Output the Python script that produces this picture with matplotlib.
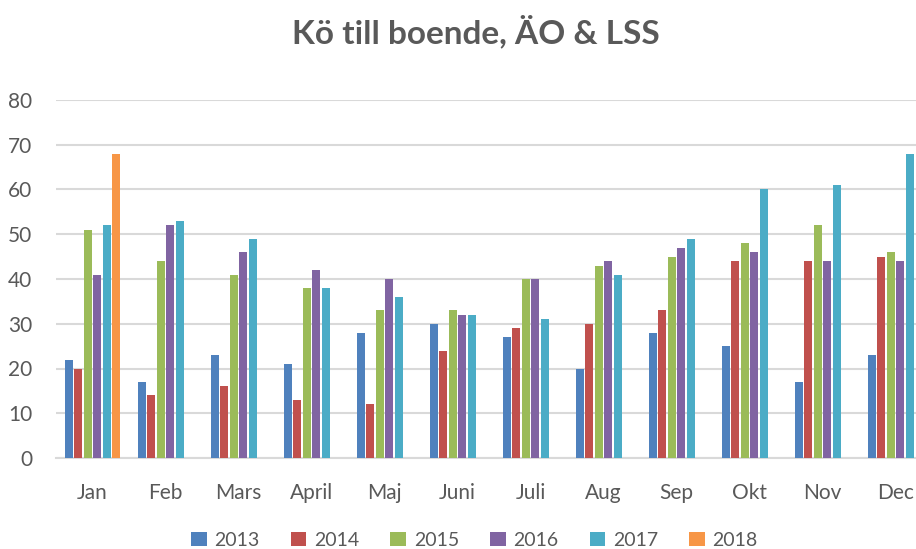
import numpy as np
import matplotlib
matplotlib.use("Agg")
import matplotlib.pyplot as plt

months = ["Jan", "Feb", "Mars", "April", "Maj", "Juni", "Juli", "Aug", "Sep", "Okt", "Nov", "Dec"]
years = ["2013", "2014", "2015", "2016", "2017", "2018"]
v2013 = [22, 17, 23, 21, 28, 30, 27, 20, 28, 25, 17, 23]
v2014 = [20, 14, 16, 13, 12, 24, 29, 30, 33, 44, 44, 45]
v2015 = [51, 44, 41, 38, 33, 33, 40, 43, 45, 48, 52, 46]
v2016 = [41, 52, 46, 42, 40, 32, 40, 44, 47, 46, 44, 44]
v2017 = [52, 53, 49, 38, 36, 32, 31, 41, 49, 60, 61, 68]
v2018 = [68, 0, 0, 0, 0, 0, 0, 0, 0, 0, 0, 0]
series = [v2013, v2014, v2015, v2016, v2017, v2018]
colors = ["#4F81BD", "#C0504D", "#9BBB59", "#8064A2", "#4BACC6", "#F79646"]

plt.rcParams['font.family'] = ['Lato', 'DejaVu Sans']
txt = "#595959"

fig = plt.figure(figsize=(9.16, 5.49), dpi=100)
ax = fig.add_axes([56 / 916, 1 - 458 / 549, 876 / 916, 358 / 549])

x = np.arange(len(months))
slot = 0.13
bw = 0.11
for i, (vals, c, y) in enumerate(zip(series, colors, years)):
    ax.bar(x + (i - 2.5) * slot, vals, width=bw, color=c, label=y, zorder=3)

ax.set_xlim(-0.5, 11.5)
ax.set_ylim(0, 80)
ax.set_yticks(range(0, 81, 10))
ax.set_xticks(x)
ax.set_xticklabels(months)
ax.yaxis.grid(True, color="#d9d9d9", linewidth=1.5, zorder=0)
for s in ["top", "right", "left"]:
    ax.spines[s].set_visible(False)
ax.spines["bottom"].set_color("#d9d9d9")
ax.spines["bottom"].set_linewidth(1.5)
ax.tick_params(axis="both", length=0, labelsize=15, colors=txt)
ax.tick_params(axis="x", pad=18)
ax.tick_params(axis="y", pad=17)

fig.text(0.52, 0.943, "Kö till boende, ÄO & LSS", ha="center", va="center",
         fontsize=24, fontweight="bold", color=txt)

leg = fig.legend(loc="center", bbox_to_anchor=(0.518, 0.016), ncol=6, frameon=False,
                 fontsize=14, handlelength=0.8, handleheight=0.8, columnspacing=1.6,
                 handletextpad=0.4)
for t in leg.get_texts():
    t.set_color(txt)

fig.savefig("out.png", dpi=100)
